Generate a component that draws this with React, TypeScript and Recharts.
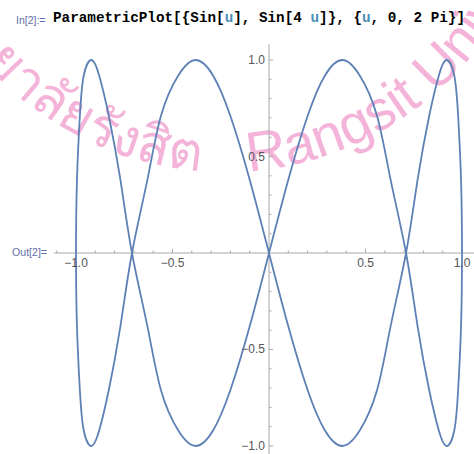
import React from 'react';
import { LineChart, Line, XAxis, YAxis, ReferenceLine, ReferenceDot } from 'recharts';

// Points, in drawing order
const xValues = [
  0, 0.10, 0.20, 0.29, 0.38, 0.47, 0.56, 0.63, 0.71, 0.77, 0.83, 0.88, 0.92, 0.96, 0.98, 0.995,
  1.0, 0.995, 0.98, 0.96, 0.92, 0.88, 0.83, 0.77, 0.71, 0.63, 0.56, 0.47, 0.38, 0.29, 0.20, 0.10,
  0, -0.10, -0.20, -0.29, -0.38, -0.47, -0.56, -0.63, -0.71, -0.77, -0.83, -0.88, -0.92, -0.96, -0.98, -0.995,
  -1.0, -0.995, -0.98, -0.96, -0.92, -0.88, -0.83, -0.77, -0.71, -0.63, -0.56, -0.47, -0.38, -0.29, -0.20, -0.10,
  0,
];
const yValues = [
  0, 0.38, 0.71, 0.92, 1.0, 0.92, 0.71, 0.38, 0, -0.38, -0.71, -0.92, -1.0, -0.92, -0.71, -0.38,
  0, 0.38, 0.71, 0.92, 1.0, 0.92, 0.71, 0.38, 0, -0.38, -0.71, -0.92, -1.0, -0.92, -0.71, -0.38,
  0, 0.38, 0.71, 0.92, 1.0, 0.92, 0.71, 0.38, 0, -0.38, -0.71, -0.92, -1.0, -0.92, -0.71, -0.38,
  0, 0.38, 0.71, 0.92, 1.0, 0.92, 0.71, 0.38, 0, -0.38, -0.71, -0.92, -1.0, -0.92, -0.71, -0.38,
  0,
];

const xMajorTicks = [-1.0, -0.5, 0.5, 1.0];
const xTickLabels = ['\u22121.0', '\u22120.5', '0.5', '1.0'];
const yMajorTicks = [1.0, 0.5, -0.5, -1.0];
const yTickLabels = ['1.0', '0.5', '\u22120.5', '\u22121.0'];
const xMinorTicks = [-1.1, -0.9, -0.8, -0.7, -0.6, -0.4, -0.3, -0.2, -0.1, 0.1, 0.2, 0.3, 0.4, 0.6, 0.7, 0.8, 0.9, 1.1];
const yMinorTicks = [-0.9, -0.8, -0.7, -0.6, -0.4, -0.3, -0.2, -0.1, 0.1, 0.2, 0.3, 0.4, 0.6, 0.7, 0.8, 0.9];

const X_DOMAIN: [number, number] = [-1.114, 1.114];
const Y_DOMAIN: [number, number] = [-1.083, 1.083];

const AXIS = '#a9a9a9';
const LABEL = '#555555';
const CURVE = '#5E81B5';
const MAJOR_LEN = 0.021;
const MINOR_LEN = 0.013;
const SANS = '"Liberation Sans", Arial, sans-serif';

export default function App() {
  const data = xValues.map((x, i) => ({ x, y: yValues[i] }));
  return (
    <div style={{ position: 'absolute', left: 0, top: 0, width: 474, height: 454, overflow: 'hidden', background: '#fff' }}>
      <svg style={{ position: 'absolute', left: 0, top: 0 }} width={474} height={454}>
        <defs>
          <path id="wmArc" d="M -95 -148 A 320 320 0 0 0 545 -148" />
        </defs>
        <text fontSize={54} fill="#f4b3d8" fontFamily={SANS}>
          <textPath href="#wmArc" startOffset={478} textAnchor="end">ยาลัยรังสิต</textPath>
        </text>
        <text fontSize={56} fill="#f4b3d8" fontFamily={SANS}>
          <textPath href="#wmArc" startOffset={526} textAnchor="start">Rangsit University</textPath>
        </text>
      </svg>

      <div style={{ position: 'absolute', left: 16, top: 14, fontFamily: SANS, fontSize: 10.5, color: '#5f6ea8', whiteSpace: 'nowrap' }}>In[2]:=</div>
      <div style={{ position: 'absolute', left: 53, top: 10, fontFamily: '"Liberation Mono", "Courier New", monospace', fontWeight: 'bold', fontSize: 14.3, color: '#000', whiteSpace: 'pre' }}>
        ParametricPlot[{'{'}Sin[<span style={{ color: '#4a8db5' }}>u</span>], Sin[4 <span style={{ color: '#4a8db5' }}>u</span>]{'}'}, {'{'}<span style={{ color: '#4a8db5' }}>u</span>, 0, 2 Pi{'}'}]
      </div>
      <div style={{ position: 'absolute', left: 12, top: 246, fontFamily: SANS, fontSize: 10.6, color: '#5f6ea8', whiteSpace: 'nowrap' }}>Out[2]=</div>

      <div style={{ position: 'absolute', left: 54, top: 44 }}>
        <LineChart width={430} height={418} data={data} margin={{ top: 0, right: 0, bottom: 0, left: 0 }}>
          <XAxis type="number" dataKey="x" domain={X_DOMAIN} hide allowDataOverflow />
          <YAxis type="number" domain={Y_DOMAIN} hide allowDataOverflow />
          <ReferenceLine y={0} stroke={AXIS} strokeWidth={1} />
          <ReferenceLine x={0} stroke={AXIS} strokeWidth={1} />
          {xMinorTicks.map((t) => (
            <ReferenceLine key={'xm' + t} segment={[{ x: t, y: 0 }, { x: t, y: MINOR_LEN }]} stroke={AXIS} ifOverflow="hidden" />
          ))}
          {xMajorTicks.map((t) => (
            <ReferenceLine key={'xM' + t} segment={[{ x: t, y: 0 }, { x: t, y: MAJOR_LEN }]} stroke={AXIS} />
          ))}
          {yMinorTicks.map((t) => (
            <ReferenceLine key={'ym' + t} segment={[{ x: 0, y: t }, { x: MINOR_LEN, y: t }]} stroke={AXIS} />
          ))}
          {yMajorTicks.map((t) => (
            <ReferenceLine key={'yM' + t} segment={[{ x: 0, y: t }, { x: MAJOR_LEN, y: t }]} stroke={AXIS} />
          ))}
          {xMajorTicks.map((t, i) => (
            <ReferenceDot
              key={'xl' + t}
              x={t}
              y={0}
              r={0}
              shape={(p: any) => (
                <text x={p.cx} y={p.cy + 14} textAnchor="middle" fontSize={12} fill={LABEL} fontFamily={SANS}>
                  {xTickLabels[i]}
                </text>
              )}
            />
          ))}
          {yMajorTicks.map((t, i) => (
            <ReferenceDot
              key={'yl' + t}
              x={0}
              y={t}
              r={0}
              shape={(p: any) => (
                <text x={p.cx - 4} y={p.cy + 4} textAnchor="end" fontSize={12} fill={LABEL} fontFamily={SANS}>
                  {yTickLabels[i]}
                </text>
              )}
            />
          ))}
          <Line dataKey="y" type="natural" stroke={CURVE} strokeWidth={1.8} dot={false} activeDot={false} isAnimationActive={false} />
        </LineChart>
      </div>
    </div>
  );
}
